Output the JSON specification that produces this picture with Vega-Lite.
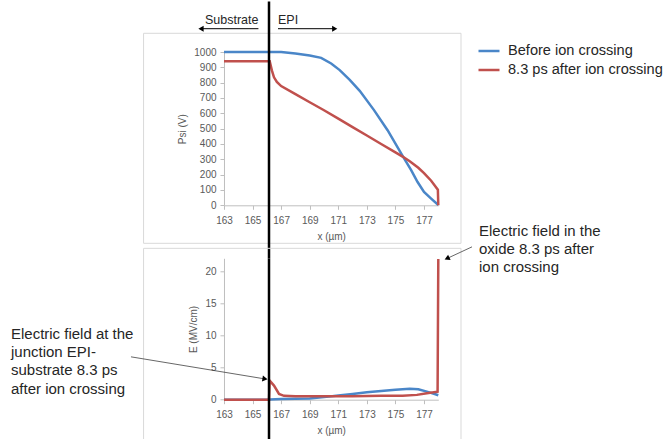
{
  "$schema": "https://vega.github.io/schema/vega-lite/v6.json",
  "padding": {"left": 10, "top": 0, "right": 0, "bottom": 0},
  "background": "white",
  "bounds": "flush",
  "spacing": 52.3,
  "resolve": {"scale": {"color": "independent"}},
  "config": {
    "font": "Liberation Sans",
    "view": {"stroke": null},
    "axis": {
      "domainColor": "#bfbfbf", "tickColor": "#bfbfbf", "tickSize": 4,
      "labelColor": "#595959", "labelFontSize": 10, "labelFont": "Liberation Sans",
      "titleColor": "#595959", "titleFontSize": 10, "titleFontWeight": "normal", "titleFont": "Liberation Sans",
      "grid": false, "labelOverlap": false
    },
    "line": {"strokeWidth": 2.5}
  },
  "datasets": {
    "one": [{}],
    "psi": [
      {"series": "Before ion crossing", "x": 163, "v": 1000},
      {"series": "Before ion crossing", "x": 165, "v": 1000},
      {"series": "Before ion crossing", "x": 167, "v": 1000},
      {"series": "Before ion crossing", "x": 168, "v": 990},
      {"series": "Before ion crossing", "x": 169, "v": 977},
      {"series": "Before ion crossing", "x": 169.8, "v": 962},
      {"series": "Before ion crossing", "x": 170.5, "v": 925},
      {"series": "Before ion crossing", "x": 171.1, "v": 882},
      {"series": "Before ion crossing", "x": 171.8, "v": 818},
      {"series": "Before ion crossing", "x": 172.5, "v": 747},
      {"series": "Before ion crossing", "x": 173.5, "v": 621},
      {"series": "Before ion crossing", "x": 174.45, "v": 490},
      {"series": "Before ion crossing", "x": 175.5, "v": 322},
      {"series": "Before ion crossing", "x": 176.1, "v": 229},
      {"series": "Before ion crossing", "x": 176.55, "v": 152},
      {"series": "Before ion crossing", "x": 177, "v": 87},
      {"series": "Before ion crossing", "x": 177.5, "v": 44},
      {"series": "Before ion crossing", "x": 178, "v": 2},
      {"series": "8.3 ps after ion crossing", "x": 163, "v": 940},
      {"series": "8.3 ps after ion crossing", "x": 166.2, "v": 940},
      {"series": "8.3 ps after ion crossing", "x": 166.35, "v": 880},
      {"series": "8.3 ps after ion crossing", "x": 166.5, "v": 835},
      {"series": "8.3 ps after ion crossing", "x": 166.7, "v": 805},
      {"series": "8.3 ps after ion crossing", "x": 167, "v": 778},
      {"series": "8.3 ps after ion crossing", "x": 168, "v": 725},
      {"series": "8.3 ps after ion crossing", "x": 169, "v": 672},
      {"series": "8.3 ps after ion crossing", "x": 170, "v": 620},
      {"series": "8.3 ps after ion crossing", "x": 171, "v": 565},
      {"series": "8.3 ps after ion crossing", "x": 172, "v": 510},
      {"series": "8.3 ps after ion crossing", "x": 173, "v": 455},
      {"series": "8.3 ps after ion crossing", "x": 174, "v": 400},
      {"series": "8.3 ps after ion crossing", "x": 175, "v": 345},
      {"series": "8.3 ps after ion crossing", "x": 175.5, "v": 318},
      {"series": "8.3 ps after ion crossing", "x": 176, "v": 287},
      {"series": "8.3 ps after ion crossing", "x": 176.6, "v": 245},
      {"series": "8.3 ps after ion crossing", "x": 177, "v": 210},
      {"series": "8.3 ps after ion crossing", "x": 177.5, "v": 160},
      {"series": "8.3 ps after ion crossing", "x": 177.97, "v": 102},
      {"series": "8.3 ps after ion crossing", "x": 178, "v": 0}
    ],
    "efield": [
      {"series": "Before ion crossing", "x": 163, "v": 0},
      {"series": "Before ion crossing", "x": 166, "v": 0},
      {"series": "Before ion crossing", "x": 166.2, "v": 0.05},
      {"series": "Before ion crossing", "x": 167, "v": 0.1},
      {"series": "Before ion crossing", "x": 168, "v": 0.15},
      {"series": "Before ion crossing", "x": 169, "v": 0.2},
      {"series": "Before ion crossing", "x": 170, "v": 0.4},
      {"series": "Before ion crossing", "x": 171, "v": 0.65},
      {"series": "Before ion crossing", "x": 172, "v": 0.9},
      {"series": "Before ion crossing", "x": 173, "v": 1.15},
      {"series": "Before ion crossing", "x": 174, "v": 1.35},
      {"series": "Before ion crossing", "x": 175, "v": 1.55},
      {"series": "Before ion crossing", "x": 176, "v": 1.72},
      {"series": "Before ion crossing", "x": 176.6, "v": 1.62},
      {"series": "Before ion crossing", "x": 177.2, "v": 1.25},
      {"series": "Before ion crossing", "x": 177.8, "v": 0.85},
      {"series": "Before ion crossing", "x": 178, "v": 0.7},
      {"series": "8.3 ps after ion crossing", "x": 163, "v": 0},
      {"series": "8.3 ps after ion crossing", "x": 166.15, "v": 0},
      {"series": "8.3 ps after ion crossing", "x": 166.2, "v": 2.95},
      {"series": "8.3 ps after ion crossing", "x": 166.5, "v": 2.2},
      {"series": "8.3 ps after ion crossing", "x": 166.85, "v": 0.9},
      {"series": "8.3 ps after ion crossing", "x": 167.2, "v": 0.6},
      {"series": "8.3 ps after ion crossing", "x": 168, "v": 0.55},
      {"series": "8.3 ps after ion crossing", "x": 170, "v": 0.55},
      {"series": "8.3 ps after ion crossing", "x": 172, "v": 0.55},
      {"series": "8.3 ps after ion crossing", "x": 174, "v": 0.6},
      {"series": "8.3 ps after ion crossing", "x": 175.5, "v": 0.6},
      {"series": "8.3 ps after ion crossing", "x": 176.5, "v": 0.75},
      {"series": "8.3 ps after ion crossing", "x": 177.2, "v": 1.0},
      {"series": "8.3 ps after ion crossing", "x": 177.95, "v": 1.25},
      {"series": "8.3 ps after ion crossing", "x": 178, "v": 21.9}
    ]
  },
  "vconcat": [
    {
      "width": 214.3,
      "height": 153.3,
      "resolve": {"axis": {"x": "independent", "y": "independent"}},
      "layer": [
        {
          "data": {"name": "psi"},
          "mark": {"type": "line", "strokeWidth": 2.5},
          "encoding": {
            "x": {"field": "x", "type": "quantitative",
              "scale": {"domain": [163, 178], "nice": false, "zero": false},
              "axis": {"title": "x (µm)", "values": [163, 165, 167, 169, 171, 173, 175, 177], "format": "d", "labelPadding": 6, "titlePadding": 6, "labelFlush": false, "labelOverlap": false}},
            "y": {"field": "v", "type": "quantitative",
              "scale": {"domain": [0, 1000], "nice": false},
              "axis": {"title": "Psi (V)", "values": [0, 100, 200, 300, 400, 500, 600, 700, 800, 900, 1000], "format": "d", "labelPadding": 4, "titlePadding": 6, "labelOverlap": false}},
            "color": {"field": "series", "type": "nominal",
              "scale": {"domain": ["Before ion crossing", "8.3 ps after ion crossing"], "range": ["#4A86C8", "#C0504D"]},
              "legend": {"orient": "none", "legendX": 253, "legendY": -13, "title": null, "labelFontSize": 14.6, "labelColor": "#262626", "labelFont": "Liberation Sans", "symbolType": "stroke", "symbolSize": 441, "symbolStrokeWidth": 2.5, "labelOffset": 7, "rowPadding": -3.6, "padding": 0}},
            "order": {"field": "x", "type": "quantitative"}
          }
        },
        {
          "data": {"name": "one"},
          "mark": {"type": "rect", "fill": null, "stroke": "#d9d9d9", "strokeWidth": 1},
          "encoding": {
            "x": {"datum": 157.37, "type": "quantitative", "axis": null},
            "x2": {"datum": 179.59},
            "y": {"datum": 1122, "type": "quantitative", "axis": null},
            "y2": {"datum": -248}
          }
        },
        {
          "data": {"name": "one"},
          "mark": {"type": "rule", "color": "#000000", "strokeWidth": 2.5},
          "encoding": {
            "x": {"datum": 166.15, "type": "quantitative", "axis": null},
            "y": {"datum": 1330, "type": "quantitative", "axis": null},
            "y2": {"datum": -346}
          }
        },
        {
          "data": {"name": "one"},
          "mark": {"type": "rule", "color": "#000000", "strokeWidth": 1},
          "encoding": {
            "x": {"datum": 161.4, "type": "quantitative", "axis": null},
            "x2": {"datum": 165.41},
            "y": {"datum": 1152, "type": "quantitative", "axis": null}
          }
        },
        {
          "data": {"name": "one"},
          "mark": {"type": "rule", "color": "#000000", "strokeWidth": 1},
          "encoding": {
            "x": {"datum": 166.78, "type": "quantitative", "axis": null},
            "x2": {"datum": 170.75},
            "y": {"datum": 1152, "type": "quantitative", "axis": null}
          }
        },
        {
          "data": {"name": "one"},
          "mark": {"type": "point", "shape": "triangle-left", "filled": true, "color": "#000000", "size": 36, "opacity": 1},
          "encoding": {
            "x": {"datum": 161.39, "type": "quantitative", "axis": null},
            "y": {"datum": 1152, "type": "quantitative", "axis": null}
          }
        },
        {
          "data": {"name": "one"},
          "mark": {"type": "point", "shape": "triangle-right", "filled": true, "color": "#000000", "size": 36, "opacity": 1},
          "encoding": {
            "x": {"datum": 170.75, "type": "quantitative", "axis": null},
            "y": {"datum": 1152, "type": "quantitative", "axis": null}
          }
        },
        {
          "data": {"name": "one"},
          "mark": {"type": "text", "align": "right", "baseline": "middle", "fontSize": 12.5, "color": "#262626"},
          "encoding": {
            "x": {"datum": 165.41, "type": "quantitative", "axis": null},
            "y": {"datum": 1206, "type": "quantitative", "axis": null},
            "text": {"value": "Substrate"}
          }
        },
        {
          "data": {"name": "one"},
          "mark": {"type": "text", "align": "left", "baseline": "middle", "fontSize": 12.5, "color": "#262626"},
          "encoding": {
            "x": {"datum": 166.78, "type": "quantitative", "axis": null},
            "y": {"datum": 1206, "type": "quantitative", "axis": null},
            "text": {"value": "EPI"}
          }
        }
      ]
    },
    {
      "width": 214.3,
      "height": 141.4,
      "resolve": {"axis": {"x": "independent", "y": "independent"}},
      "layer": [
        {
          "data": {"name": "efield"},
          "mark": {"type": "line", "strokeWidth": 2.5},
          "encoding": {
            "x": {"field": "x", "type": "quantitative",
              "scale": {"domain": [163, 178], "nice": false, "zero": false},
              "axis": {"title": "x (µm)", "values": [163, 165, 167, 169, 171, 173, 175, 177], "format": "d", "labelPadding": 6, "titlePadding": 6, "labelFlush": false, "labelOverlap": false}},
            "y": {"field": "v", "type": "quantitative",
              "scale": {"domain": [0, 22], "nice": false},
              "axis": {"title": "E (MV/cm)", "values": [0, 5, 10, 15, 20], "format": "d", "labelPadding": 4, "titlePadding": 6, "labelOverlap": false}},
            "color": {"field": "series", "type": "nominal",
              "scale": {"domain": ["Before ion crossing", "8.3 ps after ion crossing"], "range": ["#4A86C8", "#C0504D"]},
              "legend": null},
            "order": {"field": "x", "type": "quantitative"}
          }
        },
        {
          "data": {"name": "one"},
          "mark": {"type": "rect", "fill": null, "stroke": "#d9d9d9", "strokeWidth": 1},
          "encoding": {
            "x": {"datum": 157.37, "type": "quantitative", "axis": null},
            "x2": {"datum": 179.59},
            "y": {"datum": 23.55, "type": "quantitative", "axis": null},
            "y2": {"datum": -7.5}
          }
        },
        {
          "data": {"name": "one"},
          "mark": {"type": "rule", "color": "#000000", "strokeWidth": 2.5},
          "encoding": {
            "x": {"datum": 166.15, "type": "quantitative", "axis": null},
            "y": {"datum": 22, "type": "quantitative", "axis": null},
            "y2": {"datum": -7.5}
          }
        },
        {
          "data": {"name": "one"},
          "mark": {"type": "rule", "color": "#404040", "strokeWidth": 0.8},
          "encoding": {
            "x": {"datum": 156.49, "type": "quantitative", "axis": null},
            "x2": {"datum": 165.87},
            "y": {"datum": 6.67, "type": "quantitative", "axis": null},
            "y2": {"datum": 3.23}
          }
        },
        {
          "data": {"name": "one"},
          "mark": {"type": "point", "shape": "triangle-right", "angle": 9.3, "filled": true, "color": "#000000", "size": 36, "opacity": 1},
          "encoding": {
            "x": {"datum": 165.87, "type": "quantitative", "axis": null},
            "y": {"datum": 3.23, "type": "quantitative", "axis": null}
          }
        },
        {
          "data": {"name": "one"},
          "mark": {"type": "rule", "color": "#404040", "strokeWidth": 0.8},
          "encoding": {
            "x": {"datum": 180.36, "type": "quantitative", "axis": null},
            "x2": {"datum": 178.61},
            "y": {"datum": 23.78, "type": "quantitative", "axis": null},
            "y2": {"datum": 21.97}
          }
        },
        {
          "data": {"name": "one"},
          "mark": {"type": "point", "shape": "triangle-right", "angle": 155, "filled": true, "color": "#000000", "size": 36, "opacity": 1},
          "encoding": {
            "x": {"datum": 178.61, "type": "quantitative", "axis": null},
            "y": {"datum": 21.97, "type": "quantitative", "axis": null}
          }
        },
        {
          "data": {"name": "one"},
          "mark": {"type": "text", "align": "left", "baseline": "top", "fontSize": 15, "lineHeight": 18.3, "lineBreak": "\n", "color": "#262626"},
          "encoding": {
            "x": {"datum": 148.09, "type": "quantitative", "axis": null},
            "y": {"datum": 11.36, "type": "quantitative", "axis": null},
            "text": {"value": "Electric field at the\njunction EPI-\nsubstrate 8.3 ps\nafter ion crossing"}
          }
        },
        {
          "data": {"name": "one"},
          "mark": {"type": "text", "align": "left", "baseline": "top", "fontSize": 15, "lineHeight": 18, "lineBreak": "\n", "color": "#262626"},
          "encoding": {
            "x": {"datum": 180.85, "type": "quantitative", "axis": null},
            "y": {"datum": 27.3, "type": "quantitative", "axis": null},
            "text": {"value": "Electric field in the\noxide 8.3 ps after\nion crossing"}
          }
        }
      ]
    }
  ]
}
